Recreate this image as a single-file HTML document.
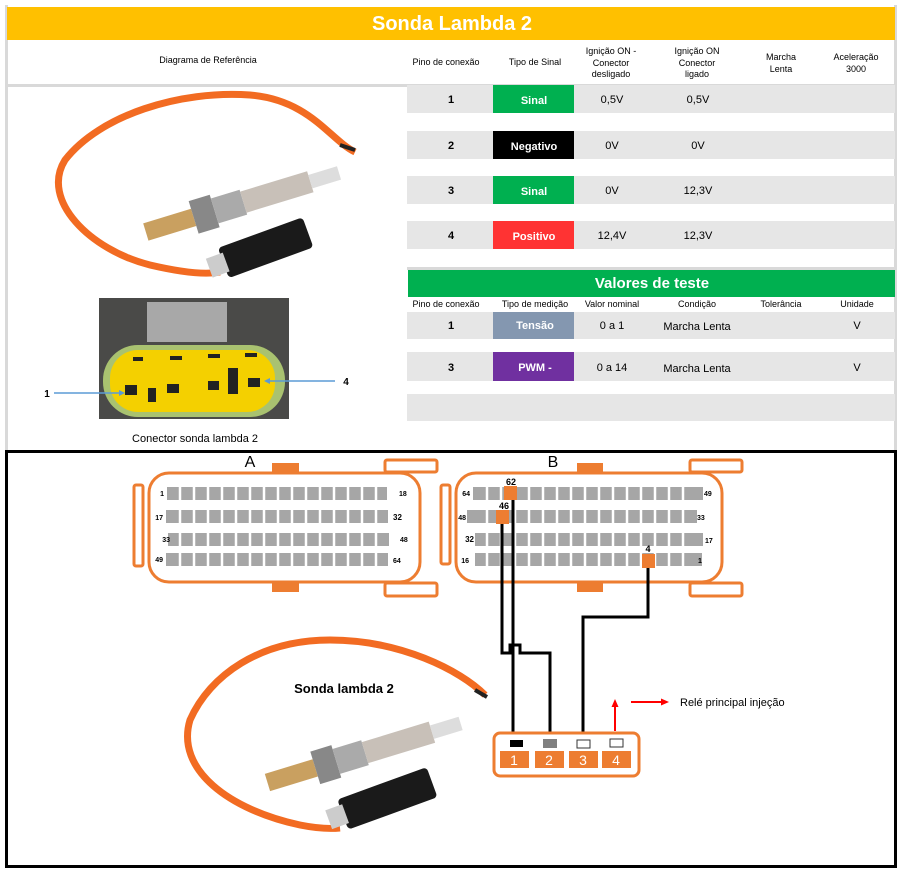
<!DOCTYPE html>
<html><head><meta charset="utf-8"><style>
body{margin:0;width:905px;height:873px;background:#fff;overflow:hidden;font-family:"Liberation Sans",sans-serif}
svg{display:block}
</style></head><body>
<svg width="905" height="873" viewBox="0 0 905 873" font-family="Liberation Sans, sans-serif">
<!-- borders of top panel -->
<rect x="5" y="5" width="3" height="445" fill="#d9d9d9"/>
<rect x="894" y="5" width="3" height="445" fill="#d9d9d9"/>
<rect x="7" y="7" width="888" height="33" fill="#FFC000"/>
<text x="452" y="30" font-size="20" font-weight="bold" fill="#fff" text-anchor="middle">Sonda Lambda 2</text>
<rect x="7" y="84" width="888" height="3" fill="#d9d9d9"/>
<g font-size="9" text-anchor="middle" fill="#000">
<text x="208" y="63">Diagrama de Referência</text>
<text x="446" y="65">Pino de conexão</text>
<text x="535" y="65">Tipo de Sinal</text>
<text x="611" y="54">Ignição ON -</text><text x="611" y="66">Conector</text><text x="611" y="77">desligado</text>
<text x="697" y="54">Ignição ON</text><text x="697" y="66">Conector</text><text x="697" y="77">ligado</text>
<text x="781" y="60">Marcha</text><text x="781" y="72">Lenta</text>
<text x="856" y="60">Aceleração</text><text x="856" y="72">3000</text>
</g>
<!-- rows -->
<g fill="#e6e6e6">
<rect x="407" y="85" width="488" height="28"/>
<rect x="407" y="131" width="488" height="28"/>
<rect x="407" y="176" width="488" height="28"/>
<rect x="407" y="221" width="488" height="28"/>
</g>
<rect x="493" y="85" width="81" height="28" fill="#00B050"/>
<rect x="493" y="131" width="81" height="28" fill="#000"/>
<rect x="493" y="176" width="81" height="28" fill="#00B050"/>
<rect x="493" y="221" width="81" height="28" fill="#FF3333"/>
<g font-size="11" text-anchor="middle">
<text x="451" y="103" font-weight="bold">1</text><text x="534" y="104" fill="#fff" font-weight="bold">Sinal</text><text x="612" y="103">0,5V</text><text x="698" y="103">0,5V</text>
<text x="451" y="149" font-weight="bold">2</text><text x="534" y="150" fill="#fff" font-weight="bold">Negativo</text><text x="612" y="149">0V</text><text x="698" y="149">0V</text>
<text x="451" y="194" font-weight="bold">3</text><text x="534" y="195" fill="#fff" font-weight="bold">Sinal</text><text x="612" y="194">0V</text><text x="698" y="194">12,3V</text>
<text x="451" y="239" font-weight="bold">4</text><text x="534" y="240" fill="#fff" font-weight="bold">Positivo</text><text x="612" y="239">12,4V</text><text x="698" y="239">12,3V</text>
</g>
<!-- Valores de teste -->
<rect x="407" y="267" width="488" height="3" fill="#d9d9d9"/>
<rect x="408" y="270" width="487" height="27" fill="#00B050"/>
<text x="652" y="288" font-size="15" font-weight="bold" fill="#fff" text-anchor="middle">Valores de teste</text>
<g font-size="9" text-anchor="middle">
<text x="446" y="307">Pino de conexão</text><text x="535" y="307">Tipo de medição</text><text x="612" y="307">Valor nominal</text><text x="697" y="307">Condição</text><text x="781" y="307">Tolerância</text><text x="857" y="307">Unidade</text>
</g>
<g fill="#e6e6e6">
<rect x="407" y="312" width="488" height="27"/>
<rect x="407" y="352" width="488" height="29"/>
<rect x="407" y="394" width="488" height="27"/>
</g>
<rect x="493" y="312" width="81" height="27" fill="#8497B0"/>
<rect x="493" y="352" width="81" height="29" fill="#7030A0"/>
<g font-size="11" text-anchor="middle">
<text x="451" y="329" font-weight="bold">1</text><text x="535" y="329" fill="#fff" font-weight="bold">Tensão</text><text x="612" y="329">0 a 1</text><text x="697" y="330">Marcha Lenta</text><text x="857" y="329">V</text>
<text x="451" y="371" font-weight="bold">3</text><text x="535" y="371" fill="#fff" font-weight="bold">PWM -</text><text x="612" y="371">0 a 14</text><text x="697" y="372">Marcha Lenta</text><text x="857" y="371">V</text>
</g>
<!-- top sensor photo -->
<path d="M355,152 C330,140 310,100 250,95 C180,90 100,115 65,160 C40,200 90,250 150,265 C180,272 205,275 220,272" fill="none" stroke="#F26B22" stroke-width="7"/>
<path d="M355,150 L340,145" stroke="#222" stroke-width="4"/>
<g transform="rotate(-17 260 195)">
<rect x="140" y="188" width="50" height="18" fill="#c9a060"/>
<rect x="190" y="180" width="22" height="34" fill="#888"/>
<rect x="212" y="184" width="30" height="26" fill="#aaa"/>
<rect x="242" y="186" width="70" height="22" fill="#c8c0b8"/>
<rect x="312" y="190" width="30" height="14" fill="#ddd"/>
</g>
<g transform="rotate(-20 270 245)">
<rect x="220" y="230" width="90" height="32" rx="4" fill="#1a1a1a"/>
<rect x="205" y="236" width="18" height="20" fill="#ccc"/>
</g>
<!-- connector photo -->
<rect x="99" y="298" width="190" height="121" fill="#4a4a48"/>
<rect x="147" y="302" width="80" height="40" fill="#a8a8a8"/>
<rect x="103" y="345" width="182" height="72" rx="35" fill="#a9c270"/>
<rect x="110" y="350" width="165" height="62" rx="28" fill="#f4d000"/>
<g fill="#222"><rect x="125" y="385" width="12" height="10"/><rect x="148" y="388" width="8" height="14"/><rect x="167" y="384" width="12" height="9"/><rect x="208" y="381" width="11" height="9"/><rect x="228" y="368" width="10" height="26"/><rect x="248" y="378" width="12" height="9"/>
<rect x="133" y="357" width="10" height="4"/><rect x="170" y="356" width="12" height="4"/><rect x="208" y="354" width="12" height="4"/><rect x="245" y="353" width="12" height="4"/></g>
<line x1="54" y1="393" x2="121" y2="393" stroke="#5b9bd5" stroke-width="1.5"/><path d="M125,393 l-6,-3 v6z" fill="#5b9bd5"/>
<line x1="335" y1="381" x2="268" y2="381" stroke="#5b9bd5" stroke-width="1.5"/><path d="M264,381 l6,-3 v6z" fill="#5b9bd5"/>
<text x="47" y="397" font-size="10" font-weight="bold" text-anchor="middle">1</text>
<text x="346" y="385" font-size="10" font-weight="bold" text-anchor="middle">4</text>
<text x="195" y="442" font-size="11" text-anchor="middle">Conector sonda lambda 2</text>
<!-- bottom frame -->
<rect x="6.5" y="451.5" width="889" height="415" fill="none" stroke="#000" stroke-width="3"/>
<!-- connector A -->
<g fill="none" stroke="#ED7D31" stroke-width="3">
<rect x="149" y="473" width="271" height="109" rx="20"/>
<rect x="134" y="485" width="9" height="81" rx="2"/>
<rect x="385" y="460" width="52" height="12" rx="2"/>
<rect x="385" y="583" width="52" height="13" rx="2"/>
<rect x="456" y="473" width="266" height="109" rx="20"/>
<rect x="441" y="485" width="9" height="79" rx="2"/>
<rect x="690" y="460" width="52" height="12" rx="2"/>
<rect x="690" y="583" width="52" height="13" rx="2"/>
</g>
<g fill="#ED7D31">
<rect x="272" y="463" width="27" height="9"/><rect x="272" y="583" width="27" height="9"/>
<rect x="577" y="463" width="26" height="9"/><rect x="577" y="583" width="26" height="9"/>
</g>
<text x="250" y="467" font-size="16" text-anchor="middle">A</text>
<text x="553" y="467" font-size="16" text-anchor="middle">B</text>
<g fill="#a6a6a6" id="pa">
<rect x="167" y="487" width="220" height="13"/>
<rect x="166" y="510" width="222" height="13"/>
<rect x="168" y="533" width="221" height="13"/>
<rect x="166" y="553" width="222" height="13"/>
<rect x="473" y="487" width="230" height="13"/>
<rect x="467" y="510" width="230" height="13"/>
<rect x="475" y="533" width="228" height="13"/>
<rect x="475" y="553" width="227" height="13"/>
</g>
<g stroke="#fff" stroke-width="2.5">
<path d="M180,485v83M194,485v83M208,485v83M222,485v83M236,485v83M250,485v83M264,485v83M278,485v83M292,485v83M306,485v83M320,485v83M334,485v83M348,485v83M362,485v83M376,485v83"/>
<path d="M487,485v83M501,485v83M515,485v83M529,485v83M543,485v83M557,485v83M571,485v83M585,485v83M599,485v83M613,485v83M627,485v83M641,485v83M655,485v83M669,485v83M683,485v83"/>
</g>
<g font-size="7" font-weight="bold">
<text x="164" y="496" text-anchor="end">1</text><text x="399" y="496">18</text>
<text x="163" y="520" text-anchor="end">17</text><text x="393" y="520" font-size="8">32</text>
<text x="170" y="542" text-anchor="end">33</text><text x="400" y="542">48</text>
<text x="163" y="562" text-anchor="end">49</text><text x="393" y="563">64</text>
<text x="470" y="496" text-anchor="end">64</text><text x="704" y="496">49</text>
<text x="466" y="520" text-anchor="end">48</text><text x="697" y="520">33</text>
<text x="474" y="542" text-anchor="end" font-size="8">32</text><text x="705" y="543">17</text>
<text x="469" y="563" text-anchor="end">16</text><text x="698" y="563">1</text>
</g>
<g fill="#ED7D31"><rect x="504" y="486" width="13" height="14"/><rect x="496" y="510" width="13" height="14"/><rect x="642" y="554" width="13" height="14"/></g>
<g font-size="9" font-weight="bold" text-anchor="middle"><text x="511" y="485">62</text><text x="504" y="509">46</text><text x="648" y="552">4</text></g>
<!-- wires -->
<g fill="none" stroke="#000" stroke-width="3">
<path d="M513,500 V733"/>
<path d="M502,524 V653 H510 V645 H520 V653 H550 V733"/>
<path d="M648,568 V617 H583 V733"/>
</g>
<!-- bottom connector -->
<rect x="494" y="733" width="145" height="43" rx="6" fill="#fff" stroke="#ED7D31" stroke-width="3"/>
<rect x="510" y="740" width="13" height="7" fill="#000"/>
<rect x="543" y="739" width="14" height="9" fill="#808080"/>
<rect x="577" y="740" width="13" height="8" fill="#fff" stroke="#333"/>
<rect x="610" y="739" width="13" height="8" fill="#fff" stroke="#333"/>
<g fill="#ED7D31"><rect x="500" y="751" width="29" height="17"/><rect x="535" y="751" width="29" height="17"/><rect x="569" y="751" width="29" height="17"/><rect x="602" y="751" width="29" height="17"/></g>
<g font-size="14" fill="#fff" text-anchor="middle"><text x="514" y="765">1</text><text x="549" y="765">2</text><text x="583" y="765">3</text><text x="616" y="765">4</text></g>
<line x1="615" y1="731" x2="615" y2="706" stroke="#f00" stroke-width="2"/><path d="M615,699 l-3.5,8 h7z" fill="#f00"/>
<line x1="631" y1="702" x2="662" y2="702" stroke="#f00" stroke-width="2"/><path d="M669,702 l-8,-3.5 v7z" fill="#f00"/>
<text x="680" y="706" font-size="11">Relé principal injeção</text>
<!-- bottom sensor -->
<path d="M485,695 C460,670 400,640 330,640 C260,640 210,675 190,720 C175,770 230,810 300,825 C315,828 330,829 340,828" fill="none" stroke="#F26B22" stroke-width="7"/>
<path d="M487,697 L475,690" stroke="#222" stroke-width="4"/>
<g transform="rotate(-17 360 750)">
<rect x="262" y="745" width="50" height="18" fill="#c9a060"/>
<rect x="312" y="737" width="22" height="34" fill="#888"/>
<rect x="334" y="741" width="30" height="26" fill="#aaa"/>
<rect x="364" y="743" width="70" height="22" fill="#c8c0b8"/>
<rect x="434" y="747" width="30" height="14" fill="#ddd"/>
</g>
<g transform="rotate(-20 380 800)">
<rect x="340" y="785" width="95" height="32" rx="4" fill="#1a1a1a"/>
<rect x="325" y="791" width="18" height="20" fill="#ccc"/>
</g>
<text x="344" y="693" font-size="13" font-weight="bold" text-anchor="middle">Sonda lambda 2</text>
</svg>
</body></html>
